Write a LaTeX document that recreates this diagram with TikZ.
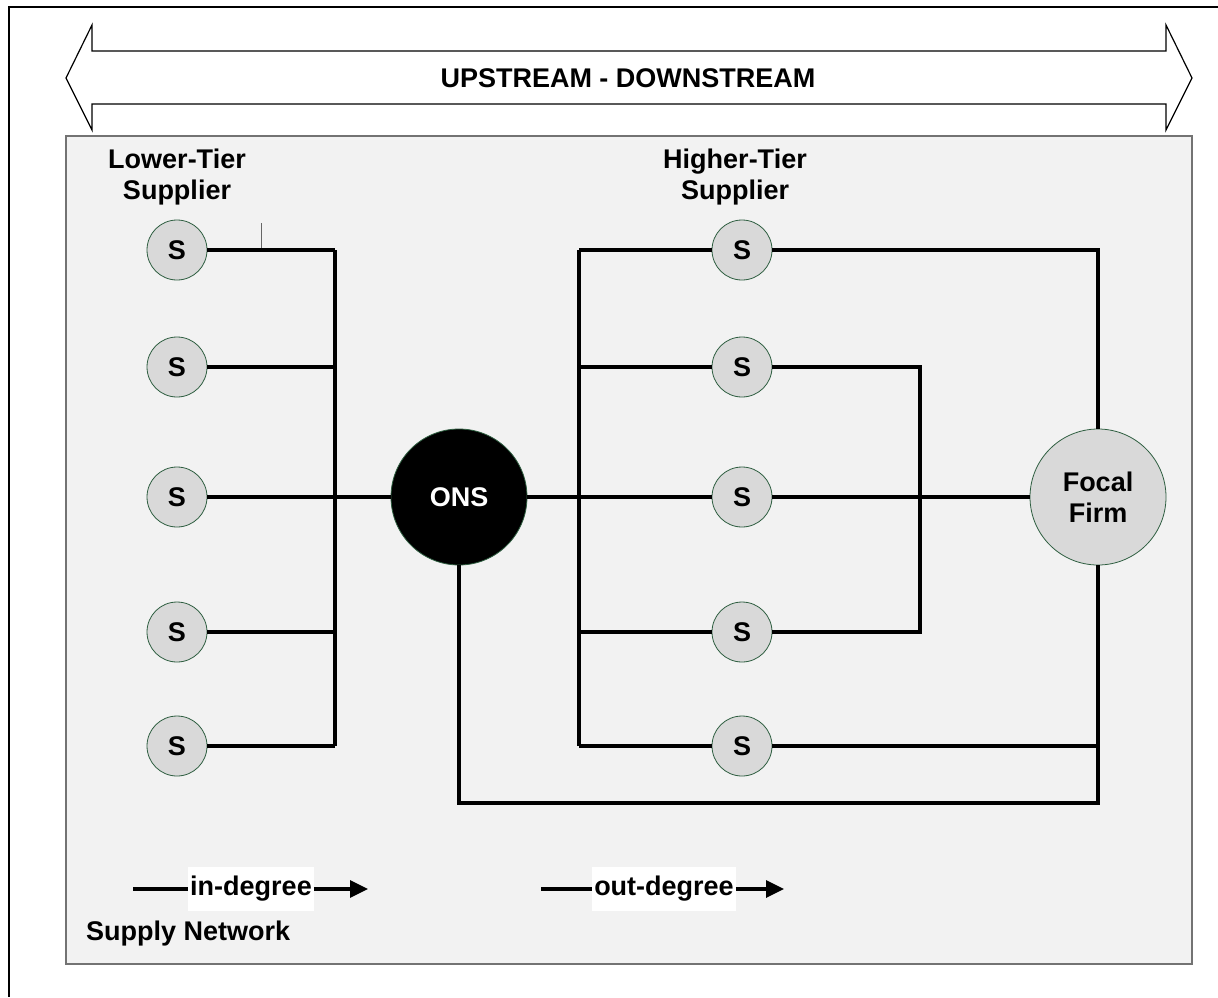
\documentclass[tikz,border=0pt]{standalone}
\usepackage{fontspec}
\setmainfont{Liberation Sans}
\usetikzlibrary{
  arrows.meta,
  positioning
}
\usepackage{xcolor}
\definecolor{netGray}{rgb}{0.949,0.949,0.949}
\definecolor{nodeGray}{rgb}{0.851,0.851,0.851}
\definecolor{rimGreen}{rgb}{0.18,0.37,0.25}
\newcommand{\bigFont}{\fontsize{27}{31}\selectfont\bfseries}
\tikzset{
  supplier/.style={
    circle,
    fill=nodeGray,
    draw=rimGreen,
    line width=0.8pt,
    minimum size=60pt,
    inner sep=0pt,
    font=\bigFont
  }
}
\tikzset{
  hub/.style={
    circle,
    fill=black,
    draw=rimGreen,
    line width=0.8pt,
    minimum size=136pt,
    inner sep=0pt,
    text=white,
    font=\bigFont
  }
}
\tikzset{
  focalFirm/.style={
    supplier,
    minimum size=136pt,
    align=center
  }
}
\tikzset{
  wire/.style={line width=3.3pt},
  caption/.style={font=\bigFont, align=center, inner sep=0pt},
  degree/.style={font=\bigFont, fill=white, inner xsep=2pt, inner ysep=9pt}
}

\begin{document}
\begin{tikzpicture}[x=1pt, y=-1pt, >=Stealth]
    \useasboundingbox (0,0) rectangle (1218,997);
    \draw[line width=2pt] (1218,7) -- (9,7) -- (9,997);
    % upstream - downstream band
    \draw[line width=1.2pt, fill=white]
    (66,78) -- (92,25) -- (92,51) -- (1166,51) -- (1166,25)
    -- (1192,78) -- (1166,130) -- (1166,104) -- (92,104)
    -- (92,130) -- cycle;
    \node[caption] (flow) at (628,78) {UPSTREAM - DOWNSTREAM};
    % supply network
    \draw[fill=netGray, draw=black!55, line width=1.2pt]
    (66,136) rectangle (1192,964);
    \node[caption] (lowTier) at (177,177) {Lower-Tier\\Supplier};
    \node[caption] (highTier) at (735,177) {Higher-Tier\\Supplier};
    \node[caption, anchor=west] (network) at (86,934) {Supply Network};
    \foreach \i/\y in {1/250, 2/367, 3/497, 4/632, 5/746}{
      \node[supplier] (low\i) at (177,\y) {S};
      \node[supplier] (high\i) at (742,\y) {S};
    }
    \node[hub] (ons) at (459,497) {ONS};
    \node[focalFirm] (focal) at (1098,497) {Focal\\Firm};
    \coordinate (inTop) at (335,250);
    \coordinate (inBot) at (335,746);
    \coordinate (outTop) at (579,250);
    \coordinate (outBot) at (579,746);
    \coordinate (midBus) at (920,497);
    \coordinate (loopBot) at (1098,803);
    \coordinate (tick) at (261,223);
    \draw[black!60, line width=1pt] (tick) -- (tick |- low1.east);
    \draw[wire] (inTop) -- (inBot);
    \draw[wire] (outTop) -- (outBot);
    \foreach \i in {1,...,5}{
      \draw[wire] (low\i.east) -- (low\i.east -| inTop);
      \draw[wire] (high\i.west -| outTop) -- (high\i.west);
    }
    \draw[wire] (low3.east -| inTop) -- (ons.west);
    \draw[wire] (ons.east) -- (high3.west);
    \draw[wire] (high3.east) -- (focal.west);
    \draw[wire] (high1.east) -| (focal.north);
    \draw[wire] (high2.east) -| (midBus) |- (high4.east);
    \draw[wire] (high5.east) -| (focal.south);
    \draw[wire] (ons.south) |- (loopBot) -- (focal.south);
    % degree arrows
    \node[degree] (inDeg) at (251,889) {in-degree};
    \node[degree] (outDeg) at (664,889) {out-degree};
    \coordinate (inStart) at (133,889);
    \coordinate (inEnd) at (368,889);
    \coordinate (outStart) at (541,889);
    \coordinate (outEnd) at (784,889);
    \draw[wire] (inStart) -- (inDeg.west);
    \draw[wire, -{Triangle[length=18pt, width=17pt]}] (inDeg.east) -- (inEnd);
    \draw[wire] (outStart) -- (outDeg.west);
    \draw[wire, -{Triangle[length=18pt, width=17pt]}] (outDeg.east) -- (outEnd);
  \end{tikzpicture}
\end{document}
